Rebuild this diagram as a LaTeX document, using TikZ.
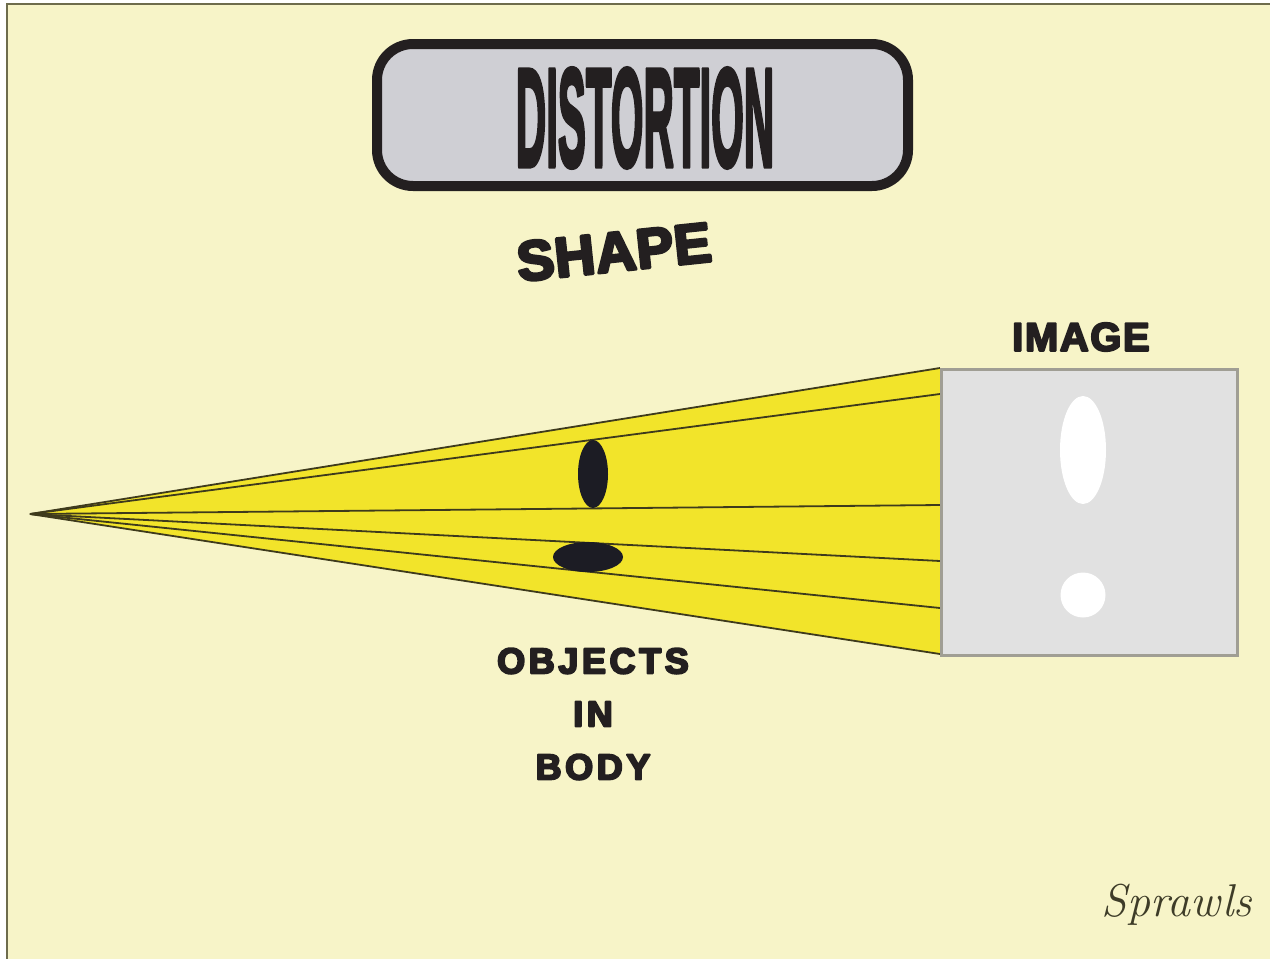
\documentclass[tikz,border=0pt]{standalone}
\usepackage{fontspec}
\setmainfont{Liberation Sans}
\newfontfamily\lmfont{Latin Modern Roman}
\usetikzlibrary{shapes.geometric}
\definecolor{bg}{HTML}{F7F4C8}
\definecolor{frame}{HTML}{6E6C4C}
\definecolor{titlefill}{HTML}{CFCFD4}
\definecolor{ink}{HTML}{231F20}
\definecolor{coneyellow}{HTML}{F2E42A}
\definecolor{ray}{HTML}{3E3A1C}
\definecolor{imgfill}{HTML}{E1E1E1}
\definecolor{imgedge}{HTML}{A09E94}
\definecolor{blob}{HTML}{1C1C24}
\definecolor{sig}{HTML}{3E3C28}
\newcommand\heavytext[2]{\special{pdf:literal direct 2 Tr 1 j #1 w}#2\special{pdf:literal direct 0 Tr 0 j}}
\tikzset{
  label/.style={font=\bfseries, text=ink, inner sep=0pt},
  raypath/.style={draw=ray, line width=1.8pt},
  blobshape/.style={ellipse, fill=blob, draw=none, inner sep=0pt},
  spot/.style={ellipse, fill=white, draw=none, inner sep=0pt}
}
\begin{document}
\begin{tikzpicture}[x=1pt,y=-1pt]
\useasboundingbox (0,0) rectangle (1270,959);
\fill[white] (0,0) rectangle (1270,959);
\fill[bg] (7,4) rectangle (1270,959);
\draw[frame, line width=2.5pt] (7,959) -- (7,4) -- (1270,4);

% title box
\draw[draw=ink, line width=10pt, fill=titlefill, rounded corners=36pt] (377,44) rectangle (908,186);
\node[label, font=\fontsize{140}{140}\bfseries\selectfont] (title) at (645,118)
  {\scalebox{0.30}[1]{\heavytext{5}{DISTORTION}}};

% shape label
\node[label, rotate=6, font=\fontsize{56}{56}\bfseries\selectfont\addfontfeature{LetterSpace=1}] (shape) at (614,252) {\heavytext{3}{SHAPE}};

% cone
\coordinate (apex) at (30,514);
\coordinate (t0) at (940,368);
\coordinate (t1) at (940,394);
\coordinate (t2) at (940,505);
\coordinate (t3) at (940,561);
\coordinate (t4) at (940,608);
\coordinate (t5) at (940,654);
\fill[coneyellow] (apex) -- (t0) -- (t5) -- cycle;
\foreach \i in {0,...,5} { \draw[raypath] (apex) -- (t\i); }

% objects
\node[blobshape, minimum width=30pt, minimum height=68pt] (obj1) at (593,474) {};
\node[blobshape, minimum width=70pt, minimum height=30pt] (obj2) at (588,557) {};

% image box
\node[draw=imgedge, line width=2.5pt, fill=imgfill, minimum width=296pt, minimum height=286pt, inner sep=0pt, anchor=north west] (img) at (940,368) {};
\node[spot, minimum width=46pt, minimum height=108pt] (spot1) at (1083,450) {};
\node[spot, minimum width=45pt, minimum height=45pt] (spot2) at (1083,595) {};

% labels
\node[label, font=\fontsize{40}{40}\bfseries\selectfont\addfontfeature{LetterSpace=4}] (image) at (1081,337) {\heavytext{2}{IMAGE}};
\node[label, font=\fontsize{36}{36}\bfseries\selectfont\addfontfeature{LetterSpace=10}] (objects) at (593,661) {\heavytext{2}{OBJECTS}};
\node[label, font=\fontsize{36}{36}\bfseries\selectfont\addfontfeature{LetterSpace=10}] (in) at (593,714) {\heavytext{2}{IN}};
\node[label, font=\fontsize{36}{36}\bfseries\selectfont\addfontfeature{LetterSpace=10}] (body) at (593,767) {\heavytext{2}{BODY}};

% signature
\node[text=sig, font=\fontsize{46}{46}\selectfont\lmfont\itshape, inner sep=0pt] (sign) at (1177,905) {Sprawls};
\end{tikzpicture}
\end{document}
